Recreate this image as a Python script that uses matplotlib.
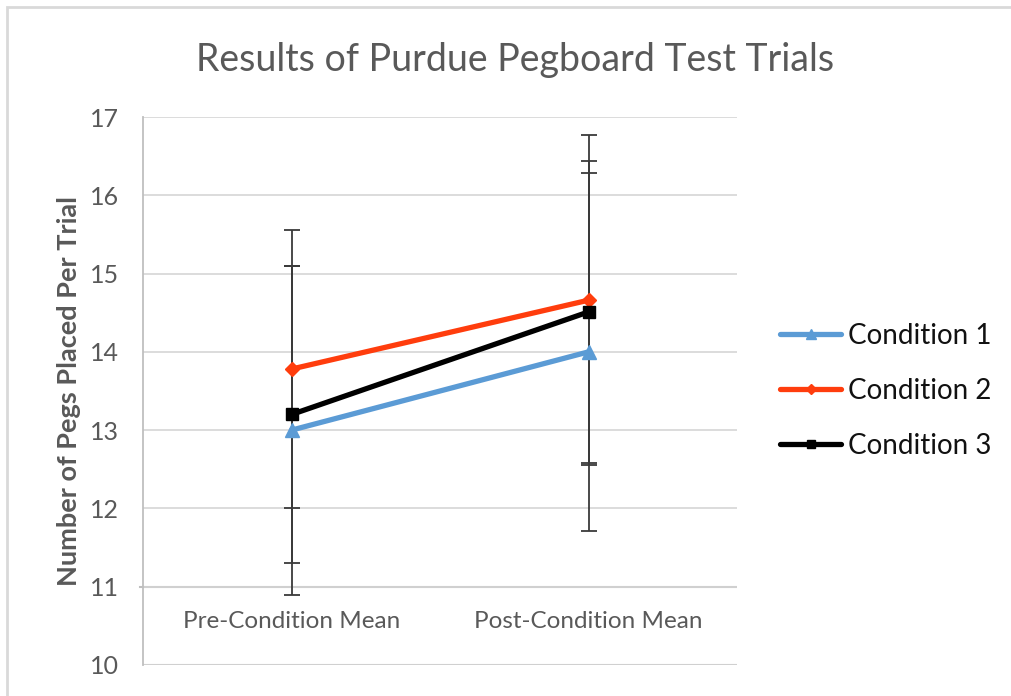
import matplotlib
matplotlib.use("Agg")
import matplotlib.pyplot as plt
from matplotlib.lines import Line2D
from matplotlib.patches import Rectangle

categories = ["Pre-Condition Mean", "Post-Condition Mean"]
series_names = ["Condition 1", "Condition 2", "Condition 3"]
cond1 = [13.0, 14.0]
cond2 = [13.78, 14.66]
cond3 = [13.2, 14.51]
err1 = [2.1, 2.29]
err2 = [1.78, 2.11]
err3 = [1.9, 1.93]
yticks = [10, 11, 12, 13, 14, 15, 16, 17]

colors = ["#5B9BD5", "#FF3D0D", "#000000"]
markers = ["^", "D", "s"]
msizes = [10, 7, 8]

plt.rcParams['font.family'] = ['Lato', 'DejaVu Sans']
fig = plt.figure(figsize=(10.11, 6.96), dpi=100)
fig.patches.append(Rectangle((7/1011, -0.1), 1.2, 1 - 7/696 + 0.1, transform=fig.transFigure,
                             fill=False, edgecolor="#d9d9d9", linewidth=2))

ax = fig.add_axes([143/1011, 1 - 665/696, (737 - 143)/1011, (665 - 117)/696])
x = [0, 1]
ax.set_xlim(-0.5, 1.5)
ax.set_ylim(10, 17)

for yv in yticks[1:]:
    ax.axhline(yv, color="#d9d9d9", lw=1.3, zorder=0)
ax.axhline(11, color="#d0d0d0", lw=1.5, zorder=0)
ax.axhline(10, color="#d0d0d0", lw=1.5, zorder=0)
ax.plot([-0.51, -0.5], [11, 11], color="#bfbfbf", lw=1.5, clip_on=False)

for s in ["top", "right", "bottom"]:
    ax.spines[s].set_visible(False)
ax.spines["left"].set_color("#bfbfbf")
ax.spines["left"].set_linewidth(1.3)

ax.set_xticks([])
ax.set_yticks(yticks)
ax.tick_params(axis="y", length=0, pad=17, labelsize=18, labelcolor="#595959")

for cat, xv in zip(categories, x):
    ax.text(xv, 10.55, cat, ha="center", va="center", fontsize=17.5, color="#595959")

data = [cond1, cond2, cond3]
errs = [err1, err2, err3]
for name, vals, e, c, m, ms in zip(series_names, data, errs, colors, markers, msizes):
    ax.errorbar(x, vals, yerr=e, fmt="none", ecolor="#3a3a3a", elinewidth=1.3,
                capsize=6, capthick=1.3, zorder=2)
for name, vals, e, c, m, ms in zip(series_names, data, errs, colors, markers, msizes):
    ax.plot(x, vals, color=c, lw=3.8, marker=m, markersize=ms, label=name, zorder=3,
            solid_capstyle="round")

ax.set_ylabel("Number of Pegs Placed Per Trial", fontsize=19.5, fontweight="bold",
              color="#595959")
ax.yaxis.set_label_coords(-0.105, 0.50)

fig.text(515/1011, 1 - 60/696, "Results of Purdue Pegboard Test Trials",
         ha="center", va="center", fontsize=27, color="#595959")

handles = [Line2D([0], [0], color=c, lw=3.8, marker=m, markersize=ms * 0.75,
                  solid_capstyle="round")
           for c, m, ms in zip(colors, markers, msizes)]
fig.legend(handles, series_names, loc="center left", bbox_to_anchor=(780/1011, 1 - 391/696),
           frameon=False, fontsize=20, handlelength=2.2, handletextpad=0.25,
           labelspacing=1.05, borderpad=0, borderaxespad=0, labelcolor="#111111")

fig.savefig("out.png", dpi=100)
